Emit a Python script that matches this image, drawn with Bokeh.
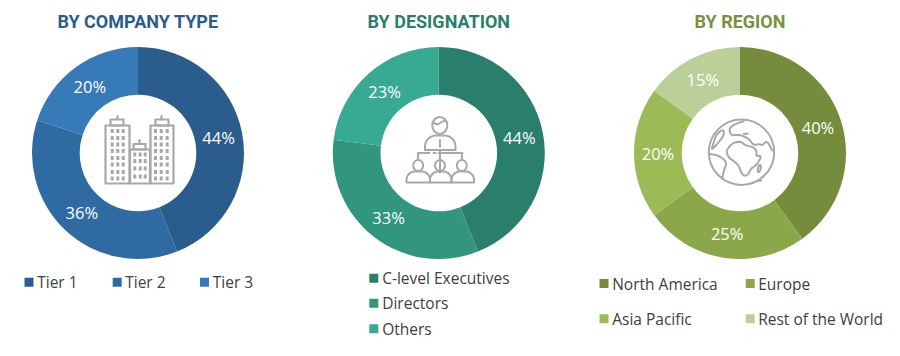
import math
from bokeh.core.properties import value
from bokeh.embed import file_html
from bokeh.layouts import row
from bokeh.models import Range1d
from bokeh.plotting import figure
from bokeh.resources import INLINE

# ---------- data ----------
company_labels = ["Tier 1", "Tier 2", "Tier 3"]
company_values = [44, 36, 20]
designation_labels = ["C-level Executives", "Directors", "Others"]
designation_values = [44, 33, 23]
region_labels = ["North America", "Europe", "Asia Pacific", "Rest of the World"]
region_values = [40, 25, 20, 15]

# ---------- style / layout ----------
ICON = "#A8A8A8"
LEGEND_TEXT = "#404040"
FONT = "Open Sans"
TITLE_FONT = "Roboto"
CY = 152.5
R_OUT, R_IN, R_LABEL = 106, 58.3, 82
PAGE_TOP, PAGE_BOTTOM = 0, 340

panels = [
    dict(title="BY COMPANY TYPE", title_color="#2A5C8C", labels=company_labels, values=company_values,
         colors=["#2A5C8C", "#2F6AA3", "#377AB8"], x0=0, x1=290, cx=137.5,
         sq_x=[28.5, 116.7, 204], sq_y=[281.7, 281.7, 281.7], tx=[36.7, 124.7, 212.3], ty=[281.7, 281.7, 281.7]),
    dict(title="BY DESIGNATION", title_color="#297F6C", labels=designation_labels, values=designation_values,
         colors=["#297F6C", "#32967F", "#38AA93"], x0=290, x1=590, cx=438.3,
         sq_x=[373.3, 373.3, 373.3], sq_y=[277.7, 302.7, 328.3], tx=[381.7, 381.7, 381.7], ty=[277.7, 302.7, 328.3]),
    dict(title="BY REGION", title_color="#77923C", labels=region_labels, values=region_values,
         colors=["#748C3C", "#8AA84A", "#9CBB56", "#BCCF98"], x0=590, x1=884, cx=739.5,
         sq_x=[603.5, 749.7, 603.5, 749.7], sq_y=[283, 283, 318.3, 318.3], tx=[611.7, 757.7, 611.7, 757.7], ty=[283, 283, 318.3, 318.3]),
]

# ---------- icons (decoration, in reference page pixels) ----------
def outline(x0, y0, x1, y1):
    return [x0, x1, x1, x0, x0], [y0, y0, y1, y1, y0]

def building_icon():
    lines = []
    for (a, b, top, ca, cb, ct, ant, at) in [(105, 129, 125, 110, 123, 119, 117, 115.5),
                                             (150, 173, 125, 155, 168, 119, 161, 115.5),
                                             (129.5, 149.5, 149, 133, 145, 143.5, 139, 139.5)]:
        lines.append(outline(a, top, b, 183))
        lines.append(outline(ca, ct, cb, top))
        lines.append(([ant, ant], [at, ct]))
    wins = []
    for xs in ([111.7, 117.3, 122.7], [155, 160.7, 166.7]):
        for x in xs:
            for y in [130.5, 137.5, 144, 150.5, 157.5, 164, 171.5, 178]:
                wins.append((x, y))
    for x in [134.3, 139.7, 144.7]:
        for y in [154, 160.5, 168, 176]:
            wins.append((x, y))
    return lines, wins, [], 2.2

def body(x0, x1, ytop, ybot):
    r = (ybot - ytop) * 0.75
    steps = [i / 6 * math.pi / 2 for i in range(7)]
    xs = [x0, x0]
    ys = [ybot, ybot - 2]
    for a in steps:
        xs.append(x0 + r - r * math.cos(a))
        ys.append(ytop + r - r * math.sin(a))
    for a in reversed(steps):
        xs.append(x1 - r + r * math.cos(a))
        ys.append(ytop + r - r * math.sin(a))
    xs += [x1, x0]
    ys += [ybot, ybot]
    return xs, ys

def person_icon():
    lines = [body(424.5, 455, 135, 149.5),
             ([439.5, 439.5], [149.5, 172]),
             ([417.5, 429], [152.5, 152.5]), ([433, 435], [152.5, 152.5]), ([438, 462], [152.5, 152.5]),
             ([417.5, 417.5], [152.5, 159]), ([461.5, 461.5], [152.5, 159]),
             body(406, 429.5, 171, 182), body(429.5, 451, 171, 182), body(451, 473.5, 171, 182),
             ([432, 437, 444, 447], [122, 124, 120, 122])]
    heads = [(439.3, 125, 7.5, 8.5), (417.7, 165, 5, 5.5), (439.5, 165, 5, 5.5), (461.3, 165, 5, 5.5)]
    return lines, [(439.5, 141), (439.5, 145)], heads, 2.0

def smooth(points, rounds=2):
    closed = points[0] == points[-1]
    for _ in range(rounds):
        out = [] if closed else [points[0]]
        for a, b in zip(points, points[1:]):
            out.append((a[0] * .75 + b[0] * .25, a[1] * .75 + b[1] * .25))
            out.append((a[0] * .25 + b[0] * .75, a[1] * .25 + b[1] * .75))
        out.append(out[0] if closed else points[-1])
        points = out
    return points

def globe_icon():
    ax, ay = 690, 100
    def z(points):
        points = smooth(points)
        return [ax + p[0] / 3 for p in points], [ay + p[1] / 3 for p in points]
    africa = [(110, 147), (125, 128), (150, 122), (165, 135), (190, 140), (200, 155), (195, 167), (215, 165),
              (197, 195), (180, 205), (172, 225), (155, 225), (145, 195), (130, 182), (115, 172), (108, 155), (110, 147)]
    asia = [(160, 62), (130, 72), (115, 85), (122, 105), (140, 103), (155, 105), (175, 115), (190, 135), (205, 130),
            (215, 135), (230, 120), (245, 150)]
    america_n = [(100, 85), (78, 100), (68, 130), (62, 150), (85, 125), (100, 105), (100, 85)]
    america_s = [(57, 160), (85, 165), (110, 185), (100, 210), (95, 235)]
    madagascar = [(207, 190), (213, 200), (205, 217), (200, 210), (207, 190)]
    lines = [z(africa), z(asia), z(america_n), z(america_s), z(madagascar),
             z([(160, 100), (172, 100)]), z([(200, 242), (212, 240)])]
    return lines, [], [(741, 151.7, 32.7, 32.7)], 2.0

icons = [building_icon(), person_icon(), globe_icon()]

# ---------- drawing ----------
figs = []
for panel, (ic_lines, ic_dots, ic_rings, ic_w) in zip(panels, icons):
    x0, x1, cx = panel["x0"], panel["x1"], panel["cx"]
    p = figure(width=x1 - x0, height=PAGE_BOTTOM - PAGE_TOP, output_backend="svg", toolbar_location=None,
               x_range=Range1d(x0 - cx, x1 - cx), y_range=Range1d(CY - PAGE_BOTTOM, CY - PAGE_TOP),
               min_border=0, outline_line_color=None, x_axis_location=None, y_axis_location=None)
    p.grid.visible = False

    total = sum(panel["values"])
    starts, ends, lx, ly, texts = [], [], [], [], []
    cum = 0
    for v in panel["values"]:
        a0 = math.pi / 2 - 2 * math.pi * cum / total
        a1 = math.pi / 2 - 2 * math.pi * (cum + v) / total
        mid = (a0 + a1) / 2
        starts.append(a0)
        ends.append(a1)
        lx.append(R_LABEL * math.cos(mid))
        ly.append(R_LABEL * math.sin(mid))
        texts.append(f"{v}%")
        cum += v
    p.annular_wedge(x=0, y=0, inner_radius=R_IN, outer_radius=R_OUT, start_angle=starts, end_angle=ends,
                    direction="clock", fill_color=panel["colors"], line_color=None)
    p.text(x=lx, y=ly, text=texts, text_color="white", text_font=value(FONT), text_font_size=value("16.5px"),
           text_align="center", text_baseline="middle")

    p.text(x=[0], y=[CY - 20.5], text=[panel["title"]], text_color=panel["title_color"],
           text_font=value(TITLE_FONT), text_font_style="bold", text_font_size=value("18px"),
           text_align="center", text_baseline="middle")

    p.scatter(x=[v - cx for v in panel["sq_x"]], y=[CY - v for v in panel["sq_y"]], marker="square", size=9,
              fill_color=panel["colors"], line_color=None)
    p.text(x=[v - cx for v in panel["tx"]], y=[CY - v for v in panel["ty"]], text=panel["labels"],
           text_color=LEGEND_TEXT, text_font=value(FONT), text_font_size=value("15.5px"),
           text_align="left", text_baseline="middle")

    p.multi_line(xs=[[x - cx for x in l[0]] for l in ic_lines], ys=[[CY - y for y in l[1]] for l in ic_lines],
                 line_color=ICON, line_width=ic_w, line_join="round", line_cap="round")
    if ic_dots:
        w = 3 if len(ic_dots) > 2 else 2
        p.rect(x=[d[0] - cx for d in ic_dots], y=[CY - d[1] for d in ic_dots], width=w, height=4,
               fill_color=ICON, line_color=None)
    if ic_rings:
        p.ellipse(x=[d[0] - cx for d in ic_rings], y=[CY - d[1] for d in ic_rings],
                  width=[2 * d[2] for d in ic_rings], height=[2 * d[3] for d in ic_rings],
                  fill_color=None, line_color=ICON, line_width=ic_w)
    figs.append(p)

layout = row(*figs, spacing=0)
open("out.html", "w").write(file_html(layout, INLINE))
